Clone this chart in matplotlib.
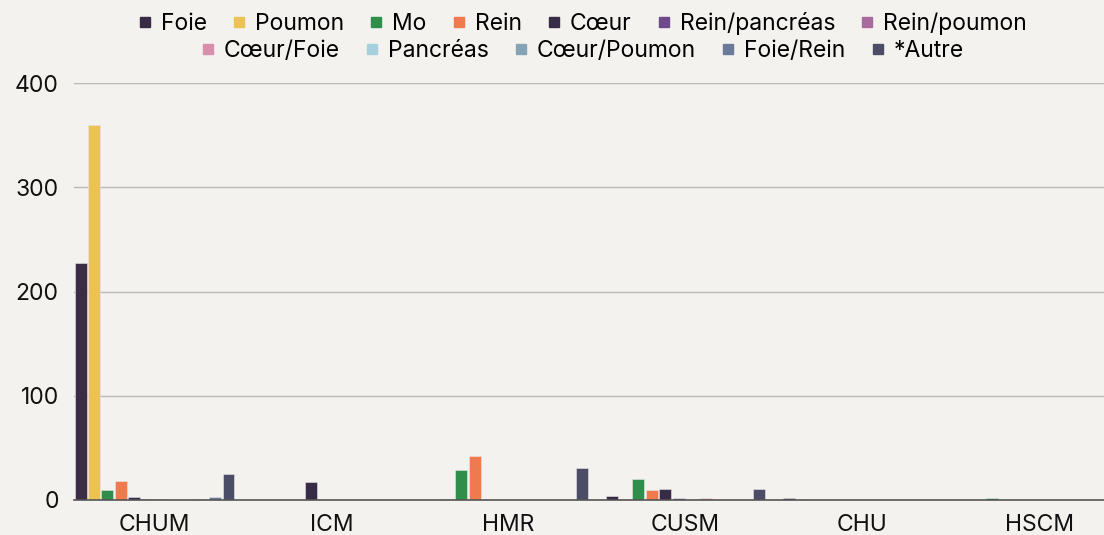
import numpy as np
from matplotlib import pyplot as plt
from matplotlib.lines import Line2D

plt.rcParams['font.family'] = ['Inter', 'DejaVu Sans']

# hospitals (x categories)
hospitals = ["CHUM", "ICM", "HMR", "CUSM", "CHU", "HSCM"]

organs = ["Foie", "Poumon", "Mo", "Rein", "Cœur", "Rein/pancréas", "Rein/poumon",
          "Cœur/Foie", "Pancréas", "Cœur/Poumon", "Foie/Rein", "*Autre"]
colors = ["#3a2c45", "#ecc252", "#2f8f4a", "#ee7a4e", "#382b45", "#6e4a8a",
          "#a96b9d", "#d98fab", "#a8d0dc", "#86a3b6", "#6b7a99", "#4b4c66"]

# values per organ, one entry per hospital
foie          = [227, 0, 0, 4, 2, 0]
poumon        = [360, 0, 1, 1, 1, 0]
mo            = [10, 0, 29, 20, 0, 2]
rein          = [18, 0, 42, 10, 0, 0]
coeur         = [3, 17, 0, 11, 0, 0]
rein_pancreas = [1, 0, 0, 2, 0, 0]
rein_poumon   = [1, 0, 0, 0, 0, 0]
coeur_foie    = [0, 0, 0, 2, 0, 0]
pancreas      = [0, 0, 1, 0, 0, 0]
coeur_poumon  = [1, 0, 0, 0, 0, 0]
foie_rein     = [3, 0, 0, 0, 0, 0]
autre         = [25, 0, 31, 11, 0, 0]

series = [foie, poumon, mo, rein, coeur, rein_pancreas, rein_poumon,
          coeur_foie, pancreas, coeur_poumon, foie_rein, autre]

bg = "#f3f2ef"
fs = 16.5
fig = plt.figure(figsize=(11.04, 5.35), dpi=100, facecolor=bg)
ax = fig.add_axes([74/1104, 35/535, 1046/1104, 417/535])
ax.set_facecolor(bg)

x = np.arange(len(hospitals))
pitch = 13.45/177
width = 12/177
for i, (vals, col) in enumerate(zip(series, colors)):
    offs = (i - 5.5) * pitch
    ax.bar(x + offs, vals, width=width, color=col, zorder=3,
           edgecolor="#e8e6e6", linewidth=0.4)

ax.set_xlim(-0.455, 5.455)
ax.set_ylim(0, 400)
ax.set_yticks([0, 100, 200, 300, 400])
ax.set_xticks(x)
ax.set_xticklabels(hospitals)
ax.grid(axis='y', color="#b9b9b7", linewidth=1, zorder=0)
ax.tick_params(axis='both', length=0, labelsize=fs, colors="#111111")
ax.tick_params(axis='y', pad=11)
ax.tick_params(axis='x', pad=10)
for s in ["top", "right", "left"]:
    ax.spines[s].set_visible(False)
ax.spines["bottom"].set_color("#555555")
ax.spines["bottom"].set_linewidth(1.2)
ax.spines["bottom"].set_zorder(4)

def handles(names, cols):
    return [Line2D([], [], marker='s', linestyle='', markersize=7,
                   color=c, label=n) for n, c in zip(names, cols)]

fig.legend(handles=handles(organs[:7], colors[:7]), loc='center',
           bbox_to_anchor=(0.528, 1 - 24/535), ncol=7, frameon=False,
           fontsize=fs, handlelength=0.5, handletextpad=0.45,
           columnspacing=1.15)
fig.legend(handles=handles(organs[7:], colors[7:]), loc='center',
           bbox_to_anchor=(0.528, 1 - 51/535), ncol=5, frameon=False,
           fontsize=fs, handlelength=0.5, handletextpad=0.45,
           columnspacing=1.15)

fig.savefig("out.png", dpi=100, facecolor=bg)
